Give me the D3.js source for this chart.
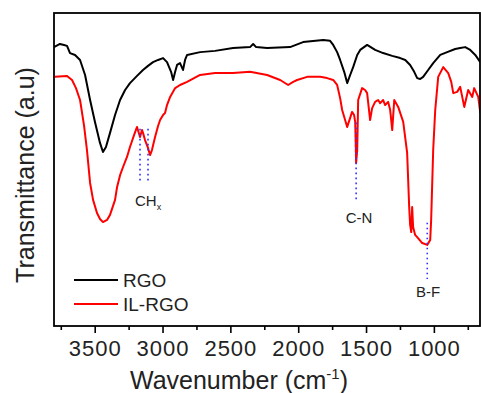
<!DOCTYPE html>
<html>
<head>
<meta charset="utf-8">
<script src="https://cdn.jsdelivr.net/npm/d3@7"></script>
<style>
body { margin: 0; background: #fff; }
text { font-family: Arial, "Liberation Sans", sans-serif; fill: #222; }
</style>
</head>
<body>
<svg class="chart"></svg>
<script>
// wavenumber (cm-1) / transmittance (a.u.)
var rgoWn = [3800,3756,3726,3704,3682,3645,3608,3571,3534,3498,3461,3439,3417,3387,3350,3313,3276,3240,3188,3144,3107,3070,3033,2996,2967,2937,2922,2907,2893,2871,2849,2834,2819,2723,2613,2480,2355,2332,2310,2229,2060,1964,1816,1765,1742,1713,1691,1661,1639,1617,1595,1565,1543,1492,1433,1374,1307,1248,1211,1175,1145,1123,1101,1079,1042,1005,953,902,843,806,769,732,695,658];
var rgoT = [89.1,90.1,89.8,89.5,87.2,86.6,85.0,80.2,72.2,65.2,58.5,55.6,57.2,61.7,67.4,72.2,75.4,77.6,79.9,81.8,83.1,84.3,85.0,85.6,84.3,81.2,78.6,81.2,83.4,84.0,81.8,85.0,86.6,87.5,87.9,88.8,89.1,90.1,89.1,88.8,89.1,90.7,91.4,91.1,89.8,87.5,85.0,81.2,77.6,80.2,82.7,86.6,88.2,89.8,88.2,87.2,86.3,85.6,85.0,83.4,81.2,79.2,78.9,79.6,81.8,84.0,86.6,87.5,88.5,88.8,89.1,88.2,86.6,84.3];

var ilWn = [3793,3704,3667,3638,3608,3579,3557,3534,3512,3483,3461,3439,3409,3387,3350,3335,3313,3291,3262,3240,3210,3188,3166,3151,3144,3129,3107,3092,3078,3055,3033,3018,2996,2981,2967,2944,2907,2871,2819,2723,2613,2480,2355,2229,2133,2074,2037,2008,1934,1838,1787,1742,1713,1691,1676,1639,1617,1603,1588,1580,1573,1565,1558,1529,1507,1492,1470,1455,1433,1411,1396,1374,1359,1337,1322,1307,1292,1263,1226,1197,1182,1175,1167,1160,1153,1138,1123,1086,1049,1027,1020,1005,990,968,931,894,872,857,828,806,776,747,717,703,673,658];
var ilT = [79.6,79.9,78.6,76.0,72.2,64.2,56.2,45.7,40.3,36.1,34.2,33.2,33.9,35.5,40.3,44.4,48.2,50.8,54.0,57.2,61.0,63.6,60.4,62.6,61.7,59.4,56.9,54.6,56.2,60.4,63.9,65.8,67.4,68.1,70.6,73.2,76.0,77.0,78.0,80.2,80.8,80.8,81.2,80.2,78.6,77.0,78.0,78.6,79.6,79.6,79.2,78.6,77.0,72.8,69.0,63.6,66.5,68.4,67.4,65.2,52.1,56.2,72.2,76.0,75.4,74.4,65.8,69.6,71.6,72.2,71.2,72.2,70.6,71.6,69.0,62.6,72.2,70.0,65.2,55.3,38.0,32.3,30.0,38.0,31.6,29.1,28.4,26.5,25.9,27.5,33.9,56.2,69.0,79.6,82.7,80.8,78.0,74.4,74.8,76.4,70.0,75.4,73.2,76.0,73.2,68.1];

var seriesNames = ["RGO", "IL-RGO"];
var seriesColors = ["#000000", "#ff0000"];

var majorTicks = [3500, 3000, 2500, 2000, 1500, 1000];
var minorTicks = [3750, 3250, 2750, 2250, 1750, 1250, 750];

// annotation marks: wavenumber, top and bottom transmittance of dotted line
var markWn = [3166, 3107, 1573, 1049];
var markTop = [63, 63, 65, 33];
var markBot = [46, 46, 40, 15];

var W = 481, H = 393;
var mLeft = 54, mRight = 480, mTop = 13, mBottom = 326;

var svg = d3.select(".chart").attr("width", W).attr("height", H);

var x = d3.scaleLinear().domain([3800, 660]).range([mLeft, mRight]);
var y = d3.scaleLinear().domain([0, 100]).range([mBottom, mTop]);

var line = d3.line()
	.x(function(d) { return x(d[0]); })
	.y(function(d) { return y(d[1]); });

var rgo = d3.zip(rgoWn, rgoT);
var il = d3.zip(ilWn, ilT);

svg.append("defs").append("clipPath").attr("id", "clip")
	.append("rect").attr("x", mLeft).attr("y", mTop).attr("width", mRight - mLeft).attr("height", mBottom - mTop);

var g = svg.append("g").attr("clip-path", "url(#clip)");
[rgo, il].forEach(function(s, i) {
	g.append("path")
		.datum(s)
		.attr("d", line)
		.attr("fill", "none")
		.attr("stroke", seriesColors[i])
		.attr("stroke-width", 2)
		.attr("stroke-linejoin", "round");
});

// dotted markers
markWn.forEach(function(w, i) {
	svg.append("line")
		.attr("x1", x(w)).attr("x2", x(w))
		.attr("y1", y(markTop[i])).attr("y2", y(markBot[i]))
		.attr("stroke", "#3333ff")
		.attr("stroke-width", 1.6)
		.attr("stroke-dasharray", "1.6,3.4");
});

// peak labels
var ch = svg.append("text").attr("x", 135).attr("y", 206).style("font-size", "15px");
ch.append("tspan").text("CH");
ch.append("tspan").attr("dy", 4).style("font-size", "9px").text("x");
svg.append("text").attr("x", 359).attr("y", 223).attr("text-anchor", "middle").style("font-size", "15px").text("C-N");
svg.append("text").attr("x", 428).attr("y", 297).attr("text-anchor", "middle").style("font-size", "15px").text("B-F");

// frame
svg.append("rect")
	.attr("x", mLeft).attr("y", mTop)
	.attr("width", mRight - mLeft).attr("height", mBottom - mTop)
	.attr("fill", "none").attr("stroke", "#000").attr("stroke-width", 1.8);

// x axis
var axMajor = svg.append("g")
	.attr("transform", "translate(0," + mBottom + ")")
	.call(d3.axisBottom(x).tickValues(majorTicks).tickFormat(d3.format("d")).tickSize(7).tickSizeOuter(0).tickPadding(7));
axMajor.select(".domain").remove();
axMajor.selectAll("line").attr("stroke-width", 1.6);
axMajor.selectAll("text").style("font-size", "22px").style("letter-spacing", "1px").attr("fill", "#222")
	.style("font-family", "Arial, 'Liberation Sans', sans-serif");

var axMinor = svg.append("g")
	.attr("transform", "translate(0," + mBottom + ")")
	.call(d3.axisBottom(x).tickValues(minorTicks).tickSize(4).tickSizeOuter(0).tickFormat(""));
axMinor.select(".domain").remove();
axMinor.selectAll("line").attr("stroke-width", 1.6);

// axis titles
var xt = svg.append("text").attr("x", 239).attr("y", 389).attr("text-anchor", "middle").style("font-size", "25px");
xt.append("tspan").text("Wavenumber (cm");
xt.append("tspan").attr("dy", -10).style("font-size", "15px").text("-1");
xt.append("tspan").attr("dy", 10).text(")");

svg.append("text")
	.attr("transform", "translate(34,175) rotate(-90)")
	.attr("text-anchor", "middle")
	.style("font-size", "25px")
	.text("Transmittance (a.u)");

// legend
seriesNames.forEach(function(n, i) {
	var ly = 280 + i * 24;
	svg.append("line").attr("x1", 74).attr("x2", 118).attr("y1", ly).attr("y2", ly)
		.attr("stroke", seriesColors[i]).attr("stroke-width", 2);
	svg.append("text").attr("x", 123).attr("y", ly + 7).style("font-size", "19px").text(n);
});
</script>
</body>
</html>
